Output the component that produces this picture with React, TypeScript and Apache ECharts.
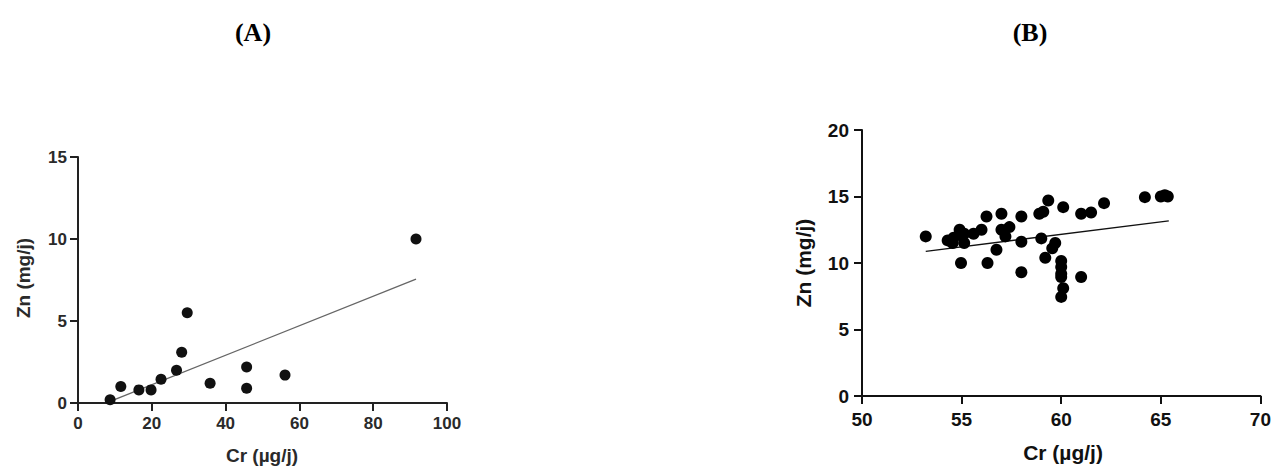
import React, { useEffect, useRef } from "react";
import * as echarts from "echarts";

// Panel A data: Cr (µg/j) vs Zn (mg/j)
const crA = [8.7, 11.6, 16.5, 19.8, 22.5, 26.7, 28.1, 29.6, 35.8, 45.7, 45.7, 56.1, 91.6];
const znA = [0.2, 1.0, 0.8, 0.8, 1.45, 2.0, 3.1, 5.5, 1.2, 2.2, 0.9, 1.7, 10.0];
const fitA_x = [8.7, 91.6];
const fitA_y = [0.1, 7.55];

// Panel B data
const crB = [
  53.2, 54.3, 54.55, 54.9, 55.13, 55.13, 54.97, 55.6, 56.0, 56.25, 56.3, 56.75,
  57.0, 57.0, 57.4, 57.2, 58.0, 58.0, 58.0, 58.9, 59.1, 59.35, 59.0, 59.7, 59.55,
  59.2, 60.1, 60.0, 60.0, 60.0, 60.0, 60.1, 60.0, 61.0, 61.5, 61.0, 62.15, 64.2,
  65.0, 65.35, 65.2, 54.6, 55.0,
];
const znB = [
  12.0, 11.7, 11.5, 12.5, 12.2, 11.5, 10.0, 12.2, 12.5, 13.5, 10.0, 11.0,
  13.7, 12.5, 12.7, 12.0, 13.5, 11.6, 9.3, 13.7, 13.85, 14.7, 11.85, 11.5, 11.1,
  10.4, 14.2, 10.15, 9.7, 9.2, 8.95, 8.1, 7.45, 13.7, 13.8, 8.95, 14.5, 14.95,
  15.0, 15.0, 15.1, 11.9, 12.1,
];
const fitB_x = [53.2, 65.4];
const fitB_y = [10.88, 13.17];

const ticksA_x = [0, 20, 40, 60, 80, 100];
const ticksA_y = [0, 5, 10, 15];
const ticksB_x = [50, 55, 60, 65, 70];
const ticksB_y = [0, 5, 10, 15, 20];

const SANS = 'Arial, "Liberation Sans", Helvetica, sans-serif';
const SERIF = '"Times New Roman", "Liberation Serif", serif';

export default function App() {
  const ref = useRef<HTMLDivElement>(null);
  useEffect(() => {
    if (!ref.current) return;
    const chart = echarts.init(ref.current, undefined, { renderer: "svg" });
    const axisCommon = (color: string, w: number) => ({
      axisLine: { show: true, onZero: false, lineStyle: { color, width: w } },
      axisTick: { show: true, inside: false, length: 8, lineStyle: { color, width: w } },
      splitLine: { show: false },
    });
    const pairs = (xs: number[], ys: number[]) => xs.map((x, i) => [x, ys[i]]);
    chart.setOption({
      animation: false,
      backgroundColor: "#ffffff",
      grid: [
        { left: 78, top: 157, width: 369, height: 246 },
        { left: 862, top: 130, width: 400, height: 266 },
      ],
      xAxis: [
        {
          gridIndex: 0, type: "value", min: ticksA_x[0], max: ticksA_x[ticksA_x.length - 1], interval: 20,
          ...axisCommon("#222", 2),
          axisLabel: { color: "#2a2a2a", fontSize: 17, fontWeight: "bold", fontFamily: SANS, margin: 12 },
        },
        {
          gridIndex: 1, type: "value", min: ticksB_x[0], max: ticksB_x[ticksB_x.length - 1], interval: 5,
          ...axisCommon("#111", 2),
          axisLabel: { color: "#111", fontSize: 19, fontWeight: "bold", fontFamily: SANS, margin: 14 },
        },
      ],
      yAxis: [
        {
          gridIndex: 0, type: "value", min: ticksA_y[0], max: ticksA_y[ticksA_y.length - 1], interval: 5,
          ...axisCommon("#222", 2),
          axisLabel: { color: "#2a2a2a", fontSize: 17, fontWeight: "bold", fontFamily: SANS, margin: 11 },
        },
        {
          gridIndex: 1, type: "value", min: ticksB_y[0], max: ticksB_y[ticksB_y.length - 1], interval: 5,
          ...axisCommon("#111", 2),
          axisLabel: { color: "#111", fontSize: 19, fontWeight: "bold", fontFamily: SANS, margin: 13 },
        },
      ],
      series: [
        {
          type: "scatter", xAxisIndex: 0, yAxisIndex: 0, data: pairs(crA, znA),
          symbol: "circle", symbolSize: 11, itemStyle: { color: "#111", opacity: 1 }, z: 3,
        },
        {
          type: "line", xAxisIndex: 0, yAxisIndex: 0, data: pairs(fitA_x, fitA_y),
          symbol: "none", lineStyle: { color: "#666", width: 1.3 }, z: 2,
        },
        {
          type: "scatter", xAxisIndex: 1, yAxisIndex: 1, data: pairs(crB, znB),
          symbol: "circle", symbolSize: 12, itemStyle: { color: "#000", opacity: 1 }, z: 3,
        },
        {
          type: "line", xAxisIndex: 1, yAxisIndex: 1, data: pairs(fitB_x, fitB_y),
          symbol: "none", lineStyle: { color: "#111", width: 1.3 }, z: 2,
        },
      ],
      graphic: [
        { type: "text", x: 253, y: 32, style: { text: "(A)", font: `bold 26px ${SERIF}`, fill: "#000", textAlign: "center", textVerticalAlign: "middle" } },
        { type: "text", x: 1030, y: 32, style: { text: "(B)", font: `bold 26px ${SERIF}`, fill: "#000", textAlign: "center", textVerticalAlign: "middle" } },
        { type: "text", x: 262, y: 455, style: { text: "Cr (µg/j)", font: `bold 19px ${SANS}`, fill: "#2a2a2a", textAlign: "center", textVerticalAlign: "middle" } },
        { type: "text", x: 23, y: 278, rotation: Math.PI / 2, style: { text: "Zn (mg/j)", font: `bold 19px ${SANS}`, fill: "#2a2a2a", textAlign: "center", textVerticalAlign: "middle" } },
        { type: "text", x: 1063, y: 452, style: { text: "Cr (µg/j)", font: `bold 21px ${SANS}`, fill: "#111", textAlign: "center", textVerticalAlign: "middle" } },
        { type: "text", x: 803, y: 263, rotation: Math.PI / 2, style: { text: "Zn (mg/j)", font: `bold 21px ${SANS}`, fill: "#111", textAlign: "center", textVerticalAlign: "middle" } },
      ],
    });
    return () => chart.dispose();
  }, []);
  return (
    <div
      ref={ref}
      style={{ position: "fixed", left: 0, top: 0, width: 1274, height: 469, background: "#fff" }}
    />
  );
}
